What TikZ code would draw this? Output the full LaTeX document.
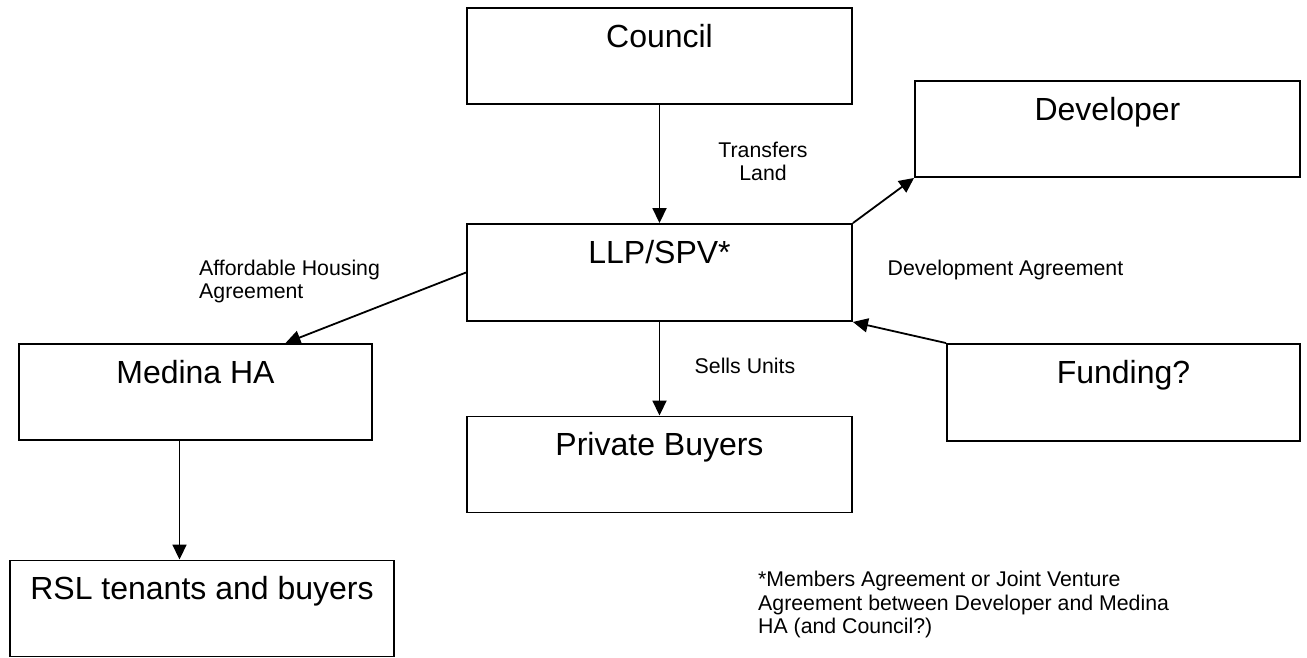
\documentclass[tikz,border=0pt]{standalone}
\usepackage{fontspec}
\setmainfont{Liberation Sans}
\usetikzlibrary{arrows.meta}

\tikzset{
    orgbox/.style={draw, line width=1.9pt, inner sep=0pt, text height=39pt, text depth=57pt,
        minimum width=385pt, font=\fontsize{32}{38}\selectfont},
    note/.style={inner sep=0pt, font=\fontsize{21.3}{23.5}\selectfont},
    arr/.style={line width=1.8pt, -{Triangle[length=15pt, width=14pt]}}
}

\begin{document}
\begin{tikzpicture}[x=1pt, y=-1pt]
    \useasboundingbox (0,0) rectangle (1307,657);

    % Boxes
    \node[orgbox] (council) at (659.5,56) {Council};
    \node[orgbox, text depth=58pt] (llp) at (659.5,272.5) {LLP/SPV*};
    \node[orgbox] (developer) at (1107.5,129) {Developer};
    \node[orgbox, minimum width=353pt, text depth=58pt] (funding) at (1123.5,392.5) {Funding?};
    \node[orgbox, minimum width=353pt] (medina) at (195.5,392) {Medina HA};
    \node[orgbox] (buyers) at (659.5,464.5) {Private Buyers};
    \node[orgbox, minimum width=384pt] (rsl) at (202,608.5) {RSL tenants and buyers};

    % Connectors
    \draw[arr] (council.south) -- (llp.north);
    \draw[arr] (llp.north east) -- (developer.south west);
    \draw[arr] (funding.north west) -- (llp.south east);
    \draw[arr] (llp.west) -- ([xshift=90pt]medina.north);
    \draw[arr] (llp.south) -- (buyers.north);
    \draw[arr] ([xshift=-16pt]medina.south) -- ([xshift=-16pt]medina.south |- rsl.north);

    % Labels
    \node[note, align=center] (transfers) at (763,161.5) {Transfers\\Land};
    \node[note] (devagree) at (1005.5,270) {Development Agreement};
    \node[note, align=left, anchor=west] (affordable) at (199,281.5) {Affordable Housing\\Agreement};
    \node[note] (sells) at (745,366) {Sells Units};
    \node[note, align=left, anchor=north west] (footnote) at (758,571) {*Members Agreement or Joint Venture\\Agreement between Developer and Medina\\HA (and Council?)};
\end{tikzpicture}
\end{document}
